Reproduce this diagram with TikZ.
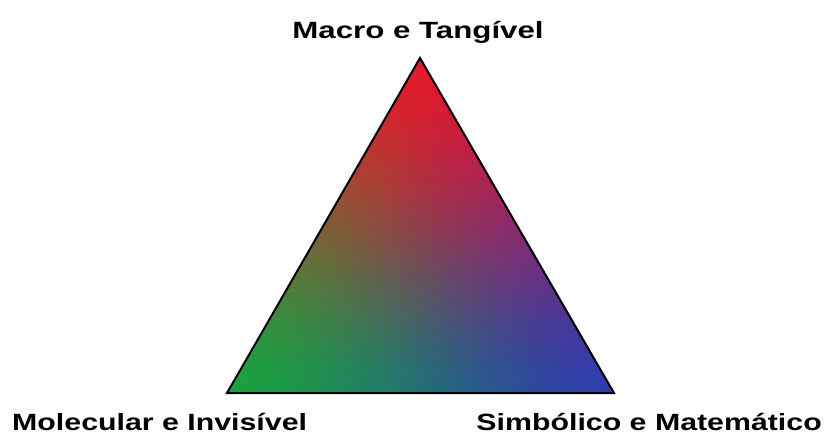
\documentclass[tikz,border=0pt]{standalone}
\usepackage{fontspec}
\setmainfont{Liberation Sans}
\newcommand{\trimix}[2]{%
  \pgfmathsetmacro\wl{max(0,1-#1-#2)}%
  \pgfmathsetmacro\pl{pow(\wl,1.35)}%
  \pgfmathsetmacro\pr{pow(#1,1.35)}%
  \pgfmathsetmacro\pa{pow(#2,1.35)}%
  \pgfmathsetmacro\ps{\pl+\pr+\pa}%
  \pgfmathsetmacro\rr{(0.84*\pa+0.12*\pl+0.20*\pr)/\ps}%
  \pgfmathsetmacro\gg{(0.13*\pa+0.60*\pl+0.25*\pr)/\ps}%
  \pgfmathsetmacro\bb{(0.19*\pa+0.26*\pl+0.64*\pr)/\ps}%
  \pgfmathsetmacro\mm{(\rr+\gg+\bb)/3}%
  \pgfmathsetmacro\cR{min(1,max(0,\mm+1.12*(\rr-\mm)))}%
  \pgfmathsetmacro\cG{min(1,max(0,\mm+1.12*(\gg-\mm)))}%
  \pgfmathsetmacro\cB{min(1,max(0,\mm+1.12*(\bb-\mm)))}%
  \definecolor{mixc}{rgb}{\cR,\cG,\cB}}
\begin{document}
\begin{tikzpicture}[x=1pt,y=1pt,
  lbl/.style={font=\bfseries\fontsize{23.5}{28}\selectfont, inner sep=0pt},
  rim/.style={draw=black, line width=2pt, line join=miter},
  cell/.style={fill=mixc, draw=mixc, line width=0.6pt, line join=round}]
\useasboundingbox (0,0) rectangle (827,440);
\coordinate (A) at (420,382);
\coordinate (L) at (227,47);
\coordinate (R) at (614,47);
\def\N{36}
\begin{scope}[shift={(227pt,47pt)}, x={(10.75pt,0pt)}, y={(5.3611pt,9.3056pt)}]
\foreach \a in {0,...,35}{
  \pgfmathtruncatemacro\bmax{35-\a}
  \foreach \b in {0,...,\bmax}{
    \pgfmathsetmacro\wr{(\a+1/3)/\N}
    \pgfmathsetmacro\wa{(\b+1/3)/\N}
    \trimix{\wr}{\wa}
    \path[cell] (\a,\b) -- (\a+1,\b) -- (\a,\b+1) -- cycle;
    \ifnum\b<\bmax
      \pgfmathsetmacro\wr{(\a+2/3)/\N}
      \pgfmathsetmacro\wa{(\b+2/3)/\N}
      \trimix{\wr}{\wa}
      \path[cell] (\a+1,\b) -- (\a+1,\b+1) -- (\a,\b+1) -- cycle;
    \fi
  }
}
\end{scope}
\draw[rim] (A) -- (R) -- (L) -- cycle;
\node[lbl, anchor=base] (top) at (418,401) {\scalebox{1.33}[1]{Macro e Tangível}};
\node[lbl, anchor=base west] (ml) at (12,10) {\scalebox{1.29}[1]{Molecular e Invisível}};
\node[lbl, anchor=base east] (sm) at (822,10) {\scalebox{1.29}[1]{Simbólico e Matemático}};
\end{tikzpicture}
\end{document}
